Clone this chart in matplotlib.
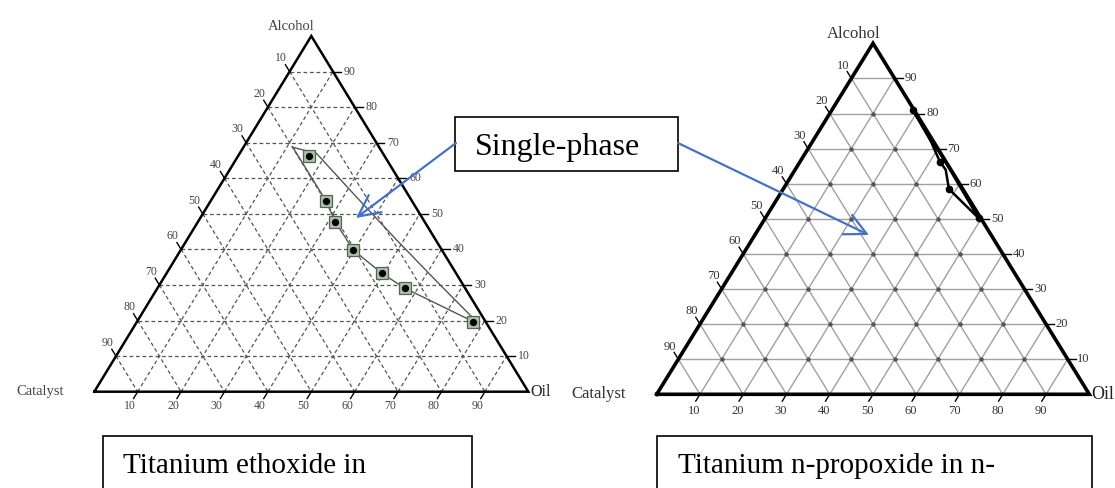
import matplotlib.pyplot as plt
import numpy as np
from matplotlib.patches import Rectangle

plt.rcParams['font.family'] = ['Liberation Serif', 'DejaVu Serif']

# axis ticks shared by both diagrams (percent)
ticks = [10, 20, 30, 40, 50, 60, 70, 80, 90]

# titanium ethoxide: measured compositions (alcohol %, catalyst %), oil is the rest
eth_alcohol = [66.4, 53.6, 47.8, 39.8, 33.3, 29.1, 19.7]
eth_catalyst = [17.3, 19.8, 20.6, 20.4, 17.1, 13.9, 2.8]
# phase boundary: down through the points, back up on the oil-rich side
eth_bnd_alcohol = [68.7, 53.6, 47.8, 39.8, 33.3, 29.1, 19.7, 19.2, 31.0, 42.6, 55.0, 67.0, 68.7]
eth_bnd_catalyst = [19.9, 19.8, 20.6, 20.4, 17.1, 13.9, 2.8, 1.9, 5.6, 9.0, 12.3, 15.3, 19.9]

# titanium n-propoxide
prop_alcohol = [81.0, 66.3, 58.5, 50.2]
prop_catalyst = [0.3, 1.4, 3.2, 0.5]
prop_bnd_alcohol = [81.0, 72.0, 66.3, 64.0, 58.5, 50.2, 65.0, 81.0]
prop_bnd_catalyst = [0.3, 0.6, 1.4, 1.2, 3.2, 0.5, 0.2, 0.3]

FW, FH = 1115, 488


def tern(alc, cat):
    alc = np.asarray(alc, float)
    cat = np.asarray(cat, float)
    oil = 100 - alc - cat
    return oil + alc / 2, alc


def make_axes(fig, left, base, w, h):
    ax = fig.add_axes([left / FW, (FH - base) / FH, w / FW, h / FH])
    ax.set_xlim(0, 100)
    ax.set_ylim(0, 100)
    ax.axis('off')
    return ax


def draw_ternary(ax, w, h, grid_kw, edge_lw, lab_size, tick_size, lab_col, off):
    # grid
    for v in ticks:
        ax.plot(*tern([v, v], [100 - v, 0]), **grid_kw)
        ax.plot(*tern([100 - v, 0], [v, v]), **grid_kw)
        ax.plot(*tern([0, 100 - v], [100 - v, 0]), **grid_kw)

    def plen(dx, dy):
        return np.hypot(dx * w / 100, dy * h / 100)

    tl = 8
    k_side = tl / plen(0.5, 1)
    for v in ticks:
        # alcohol on right edge
        x, y = tern(v, 0)
        ax.plot([x, x + tl * 100 / w], [y, y], color='k', lw=1, clip_on=False)
        ax.annotate(str(v), (x, y), xytext=(off['r'], 0), textcoords='offset pixels',
                    ha='center', va='center', fontsize=tick_size, color=lab_col)
        # catalyst on left edge
        x, y = tern(100 - v, v)
        ax.plot([x, x - 0.5 * k_side], [y, y + k_side], color='k', lw=1, clip_on=False)
        ax.annotate(str(v), (x, y), xytext=off['l'], textcoords='offset pixels',
                    ha='center', va='center', fontsize=tick_size, color=lab_col)
        # oil on base
        x, y = tern(0, 100 - v)
        ax.plot([x, x - 0.5 * k_side], [y, y - k_side], color='k', lw=1, clip_on=False)
        ax.annotate(str(v), (x, y), xytext=off['b'], textcoords='offset pixels',
                    ha='center', va='center', fontsize=tick_size, color=lab_col)

    ax.plot(*tern([0, 0, 100, 0], [100, 0, 0, 100]), color='k', lw=edge_lw,
            solid_joinstyle='miter', clip_on=False, zorder=4)

    ax.annotate('Alcohol', tern(100, 0), xytext=off['top'], textcoords='offset pixels',
                ha='center', va='center', fontsize=lab_size, color=lab_col)
    ax.annotate('Catalyst', tern(0, 100), xytext=(off['cat'], 0), textcoords='offset pixels',
                ha='right', va='center', fontsize=lab_size, color=lab_col)
    ax.annotate('Oil', tern(0, 0), xytext=(2, 0), textcoords='offset pixels',
                ha='left', va='center', fontsize=lab_size + 1, color='#222')


fig = plt.figure(figsize=(FW / 100, FH / 100), dpi=100)

# left: titanium ethoxide (dashed grid)
axL = make_axes(fig, 94.3, 391.7, 434, 355.7)
draw_ternary(axL, 434, 355.7,
             dict(color='#555555', lw=0.9, ls=(0, (3, 2.2))),
             1.8, 10.5, 8.5, '#444444',
             dict(r=17, l=(-8.6, 13.3), b=(-7.7, -14), top=(-20, 10), cat=-30))
axL.plot(*tern(eth_bnd_alcohol, eth_bnd_catalyst), color='#555555', lw=1.0, zorder=5)
axL.plot(*tern(eth_alcohol, eth_catalyst), 's', ms=8.5, mfc='#a9c2a6', mec='#556655',
         mew=0.9, zorder=6)
axL.plot(*tern(eth_alcohol, eth_catalyst), 'o', ms=4.2, color='k', zorder=7)

# right: titanium n-propoxide (solid grid)
axR = make_axes(fig, 656.7, 394.3, 432.6, 351)
draw_ternary(axR, 432.6, 351,
             dict(color='#a0a0a0', lw=1.0),
             2.6, 12, 9, '#333333',
             dict(r=16, l=(-8.2, 12.7), b=(-5.5, -17), top=(-19, 9), cat=-31))
gx, gy = [], []
for a in ticks:
    for c in ticks:
        if a + c < 100:
            x, y = tern(a, c)
            gx.append(x)
            gy.append(y)
axR.plot(gx, gy, 'o', ms=2.2, color='#555555', zorder=3)
axR.plot(*tern(prop_bnd_alcohol, prop_bnd_catalyst), color='k', lw=1.8, zorder=5)
axR.plot(*tern(prop_alcohol, prop_catalyst), 'o', ms=4.5, color='k', zorder=6)

# annotation layer in pixels
ov = fig.add_axes([0, 0, 1, 1], zorder=10)
ov.set_xlim(0, FW)
ov.set_ylim(FH, 0)
ov.axis('off')
ov.patch.set_alpha(0)

ov.add_patch(Rectangle((455, 117), 223, 54, fc='white', ec='k', lw=1.2))
ov.text(475, 155, 'Single-phase', fontsize=23, ha='left', va='baseline')
blue = '#4472C4'
ov.annotate('', xy=(356, 218), xytext=(456, 143),
            arrowprops=dict(arrowstyle='->,head_length=0.7,head_width=0.35',
                            color=blue, lw=1.6, mutation_scale=22, shrinkA=0, shrinkB=0))
ov.annotate('', xy=(869, 235), xytext=(678, 143),
            arrowprops=dict(arrowstyle='->,head_length=0.7,head_width=0.35',
                            color=blue, lw=1.6, mutation_scale=22, shrinkA=0, shrinkB=0))

ov.add_patch(Rectangle((103, 436), 369, 80, fc='white', ec='k', lw=1.2))
ov.text(123, 473, 'Titanium ethoxide in', fontsize=21, ha='left', va='baseline')
ov.add_patch(Rectangle((657, 436), 435, 80, fc='white', ec='k', lw=1.2))
ov.text(678, 473, 'Titanium n-propoxide in n-', fontsize=21, ha='left', va='baseline')

fig.savefig('out.png', dpi=100, facecolor='white')
